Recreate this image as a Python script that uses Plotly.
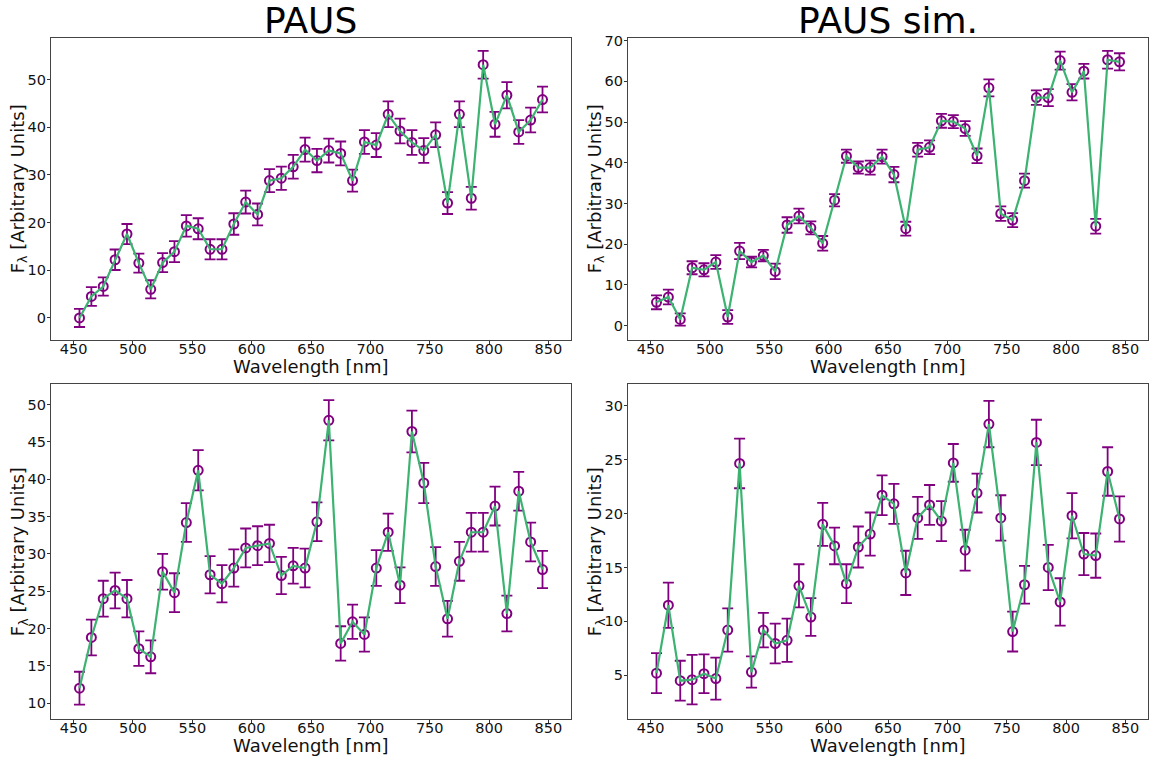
import plotly.graph_objects as go

# ---------------- data ----------------
wavelength = [455, 465, 475, 485, 495, 505, 515, 525, 535, 545,
              555, 565, 575, 585, 595, 605, 615, 625, 635, 645,
              655, 665, 675, 685, 695, 705, 715, 725, 735, 745,
              755, 765, 775, 785, 795, 805, 815, 825, 835, 845]

paus_a = [0.0, 4.5, 6.6, 12.2, 17.6, 11.5, 6.0, 11.6, 13.9, 19.3,
          18.7, 14.4, 14.4, 19.7, 24.3, 21.7, 28.8, 29.3, 31.7, 35.3,
          33.0, 35.1, 34.5, 28.8, 36.9, 36.25, 42.7, 39.2, 36.8, 35.1,
          38.4, 24.1, 42.7, 25.1, 53.1, 40.6, 46.7, 39.0, 41.5, 45.8]
paus_a_err = [1.9, 1.95, 1.9, 2.15, 2.1, 2.0, 1.9, 2.0, 2.2, 2.25,
              2.2, 2.1, 2.1, 2.25, 2.4, 2.3, 2.4, 2.45, 2.5, 2.5,
              2.45, 2.5, 2.5, 2.3, 2.5, 2.5, 2.7, 2.6, 2.6, 2.6,
              2.6, 2.3, 2.7, 2.4, 2.9, 2.6, 2.75, 2.5, 2.6, 2.7]

sim_a = [5.7, 7.0, 1.5, 14.2, 13.7, 15.6, 2.1, 18.3, 15.6, 17.2,
         13.3, 24.7, 26.9, 24.0, 20.2, 30.8, 41.6, 38.8, 38.8, 41.5,
         37.1, 23.8, 43.2, 43.8, 50.3, 50.1, 48.4, 41.7, 58.4, 27.5,
         25.9, 35.6, 56.0, 56.0, 65.1, 57.3, 62.5, 24.4, 65.3, 64.8]
sim_a_err = [1.7, 1.8, 1.5, 1.6, 1.6, 1.7, 1.7, 2.0, 1.3, 1.4,
             1.9, 1.9, 1.8, 1.6, 1.8, 1.5, 1.6, 1.5, 1.7, 1.7,
             1.9, 1.7, 1.7, 1.7, 1.7, 1.6, 1.8, 1.8, 2.1, 1.8,
             1.7, 1.7, 1.8, 2.1, 2.2, 2.0, 1.8, 1.8, 2.2, 2.1]

paus_b = [12.0, 18.8, 24.0, 25.1, 24.0, 17.3, 16.2, 27.6, 24.8, 34.2,
          41.2, 27.2, 26.0, 28.1, 30.8, 31.1, 31.4, 27.1, 28.4, 28.1,
          34.3, 47.9, 18.0, 20.9, 19.2, 28.1, 32.9, 25.8, 46.4, 39.5,
          28.3, 21.3, 29.0, 32.9, 32.9, 36.4, 22.0, 38.4, 31.6, 27.9]
paus_b_err = [2.2, 2.4, 2.4, 2.4, 2.5, 2.3, 2.2, 2.4, 2.6, 2.6,
              2.7, 2.5, 2.5, 2.5, 2.6, 2.6, 2.5, 2.5, 2.4, 2.6,
              2.6, 2.7, 2.3, 2.3, 2.3, 2.4, 2.5, 2.4, 2.8, 2.7,
              2.6, 2.4, 2.6, 2.6, 2.6, 2.6, 2.4, 2.6, 2.6, 2.5]

sim_b = [5.2, 11.5, 4.5, 4.6, 5.15, 4.7, 9.2, 24.65, 5.3, 9.2,
         7.95, 8.25, 13.3, 10.4, 19.0, 17.0, 13.5, 16.9, 18.1, 21.7,
         20.9, 14.5, 19.6, 20.8, 19.3, 24.7, 16.6, 21.9, 28.3, 19.6,
         9.06, 13.4, 26.6, 15.0, 11.8, 19.8, 16.25, 16.1, 23.9, 19.5]
sim_b_err = [1.85, 2.1, 1.85, 2.3, 1.8, 1.95, 2.0, 2.3, 1.45, 1.6,
             1.85, 2.0, 2.0, 1.75, 2.0, 1.7, 1.8, 1.9, 2.0, 1.85,
             1.85, 2.05, 1.95, 1.85, 1.85, 1.75, 1.9, 1.8, 2.15, 2.1,
             1.85, 1.75, 2.1, 2.1, 2.2, 2.1, 1.95, 2.05, 2.25, 2.1]

column_titles = ["PAUS", "PAUS sim."]
x_label = "Wavelength [nm]"
y_label = "F<sub>λ</sub> [Arbitrary Units]"
x_ticks = [450, 500, 550, 600, 650, 700, 750, 800, 850]

# ---------------- styling / layout ----------------
W, H = 1158, 760
PURPLE = "#800080"
GREEN = "#3cb371"
FONT = "DejaVu Sans"
TXT = "#111111"

def px_x(a, b):
    return [a / W, b / W]

def px_y(top, bottom):
    return [1 - bottom / H, 1 - top / H]

panels = [
    # data, err, (left,right), (top,bottom), yrange, yticks
    (paus_a, paus_a_err, (51, 571), (33, 337), [-4.58, 58.75], [0, 10, 20, 30, 40, 50]),
    (sim_a, sim_a_err, (628, 1148), (33, 337), [-3.5, 70.7], [0, 10, 20, 30, 40, 50, 60, 70]),
    (paus_b, paus_b_err, (51, 571), (382, 718.5), [7.9, 52.7], [10, 15, 20, 25, 30, 35, 40, 45, 50]),
    (sim_b, sim_b_err, (628, 1148), (382, 718.5), [0.97, 31.97], [5, 10, 15, 20, 25, 30]),
]

fig = go.Figure()
layout = dict(
    width=W, height=H,
    margin=dict(l=0, r=0, t=0, b=0),
    paper_bgcolor="white", plot_bgcolor="white",
    showlegend=False,
    font=dict(family=FONT, color="black", size=15),
)
annotations = []

for i, (vals, errs, (L, R), (T, B), yr, yt) in enumerate(panels):
    n = "" if i == 0 else str(i + 1)
    xa, ya = "x" + n, "y" + n
    fig.add_trace(go.Scatter(
        x=wavelength, y=vals, xaxis=xa, yaxis=ya, mode="markers",
        marker=dict(symbol="circle-open", size=9, color=PURPLE,
                    line=dict(color=PURPLE, width=2)),
        error_y=dict(type="data", array=errs, visible=True, color=PURPLE,
                     thickness=1.8, width=5.5),
        hoverinfo="skip",
    ))
    fig.add_trace(go.Scatter(
        x=wavelength, y=vals, xaxis=xa, yaxis=ya, mode="lines",
        line=dict(color=GREEN, width=2.2),
        hoverinfo="skip",
    ))
    axis_common = dict(
        showline=True, mirror=True, linecolor="#444444", linewidth=1.3,
        showgrid=False, zeroline=False,
        ticks="outside", ticklen=3, tickwidth=1, tickcolor="#333333",
        tickfont=dict(family=FONT, size=14.5, color=TXT),
    )
    layout["xaxis" + n] = dict(
        axis_common, domain=px_x(L, R), range=[431, 869], anchor=ya,
        tickvals=x_ticks, ticklabelstandoff=-7,
    )
    layout["yaxis" + n] = dict(
        axis_common, domain=px_y(T, B), range=yr, anchor=xa,
        tickvals=yt, ticklabelstandoff=-2,
    )
    # axis titles
    annotations.append(dict(
        text=x_label, x=(L + R) / 2 / W, y=1 - (B + 27) / H,
        xref="paper", yref="paper", xanchor="center", yanchor="middle",
        showarrow=False, font=dict(family=FONT, size=18, color=TXT),
    ))
    annotations.append(dict(
        text=y_label, x=(L - 32.5) / W, y=1 - ((T + B) / 2) / H,
        xref="paper", yref="paper", xanchor="center", yanchor="middle",
        textangle=-90, showarrow=False, font=dict(family=FONT, size=18, color=TXT),
    ))

for title, (L, R) in zip(column_titles, [(51, 571), (628, 1148)]):
    annotations.append(dict(
        text=title, x=(L + R) / 2 / W, y=1 - 16 / H, xref="paper", yref="paper",
        xanchor="center", yanchor="middle", showarrow=False,
        font=dict(family=FONT, size=36, color="black"),
    ))
layout["annotations"] = annotations

fig.update_layout(**layout)
fig.write_html("out.html")
